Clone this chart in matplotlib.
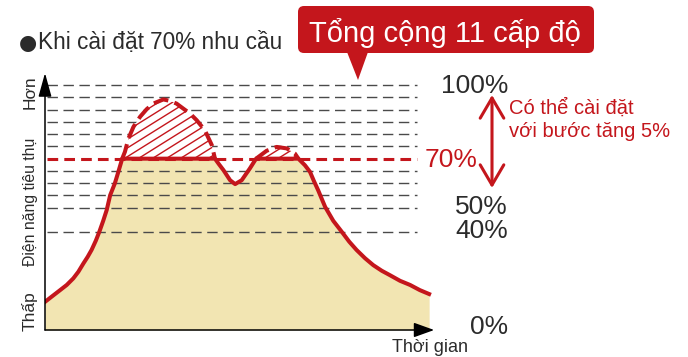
import numpy as np
import matplotlib
matplotlib.use("Agg")
import matplotlib.pyplot as plt
from matplotlib.path import Path
from matplotlib.patches import FancyBboxPatch, Polygon, FancyArrowPatch
from matplotlib.transforms import Affine2D, blended_transform_factory

plt.rcParams['font.family'] = ['Liberation Sans', 'DejaVu Sans']

# ---------------- data ----------------
time = [0, 1.7, 3.9, 5.6, 7.3, 8.6, 9.9, 11.0, 12.0, 13.1, 14.0, 15.0, 15.9,
        16.8, 18.0, 18.9, 19.9, 20.6, 21.5, 22.8, 24.5, 26.2, 27.9, 30.5, 32.2,
        33.9, 35.6, 37.4, 39.1, 41.2, 43.0, 43.8, 44.8, 46.0, 47.7, 49.0, 50.7,
        52.8, 54.4, 57.1, 59.7, 62.3, 64.4, 65.3, 67.0, 68.3, 69.3, 70.4, 71.3,
        72.2, 74.3, 76.5, 78.4, 80.3, 82.5, 84.6, 86.8, 88.9, 91.5, 94.1, 96.6,
        99.0]
demand = [11.5, 13.6, 16.3, 18.4, 21.1, 23.8, 27.2, 29.9, 32.7, 36.5, 40.1, 44.6,
          49.0, 55.1, 59.9, 64.6, 70.0, 72.8, 78.2, 83.0, 87.1, 90.2, 92.5, 94.2,
          93.6, 92.5, 90.5, 88.4, 85.7, 81.6, 75.5, 70.0, 67.8, 65.3, 61.2, 59.6,
          61.2, 66.0, 70.0, 73.2, 74.8, 74.2, 72.1, 70.0, 67.3, 64.6, 60.9, 57.1,
          53.7, 50.3, 44.6, 40.1, 36.1, 32.7, 29.3, 26.5, 24.2, 22.4, 20.1, 18.4,
          16.3, 14.7]
setting = 70
grid_levels = [40, 50, 55, 60, 65, 75, 80, 85, 90, 95, 100]
pct_levels = [100, 70, 50, 40, 0]
pct_labels = ['100%', '70%', '50%', '40%', '0%']

bullet = '●'
title = 'Khi cài đặt 70% nhu cầu'
badge = 'Tổng cộng 11 cấp độ'
note = 'Có thể cài đặt\nvới bước tăng 5%'
y_top, y_mid, y_bot = 'Hơn', 'Điện năng tiêu thụ', 'Thấp'
x_label = 'Thời gian'

# ---------------- style ----------------
RED = '#c4161c'
FILL = '#f2e5b2'
DARK = '#2b2b2b'
W, H = 688, 357

fig = plt.figure(figsize=(W / 100, H / 100), dpi=100)
PX = Affine2D().scale(1, -1).translate(0, H).scale(1 / 100) + fig.dpi_scale_trans

ax = fig.add_axes([45 / W, (H - 330) / H, 388 / W, 257 / H])
ax.set_xlim(0, 100)
ax.set_ylim(0, 105)
ax.axis('off')

t = np.array(time)
d = np.array(demand)
capped = np.minimum(d, setting)

# yellow area
ax.fill_between(t, 0, capped, color=FILL, lw=0, zorder=1)

# grid dashed lines
for lv in grid_levels:
    ax.plot([0.5, 96], [lv, lv], color='#4a4a4a', lw=1.0,
            ls=(0, (7.5, 4)), zorder=2)

# hatched excess area
over = ax.fill_between(t, setting, d, where=d >= setting, facecolor='white',
                       edgecolor='none', lw=0, zorder=3)
clip = Path.make_compound_path(*over.get_paths())
slope = 0.99
for c in np.arange(-12, 70, 3.6):
    ln, = ax.plot([c, c + 40], [setting, setting + 40 * slope], color=RED,
                  lw=1.0, zorder=3.5)
    ln.set_clip_path(clip, ax.transData)

# 70 % dashed line
ax.plot([0.5, 96], [setting, setting], color=RED, lw=2.2,
        ls=(0, (3.5, 2)), zorder=4)

# curves
ax.plot(t, capped, color=RED, lw=2.9, zorder=5, solid_joinstyle='round')
ax.plot(t, np.ma.masked_where(d < setting, d), color=RED, lw=2.9,
        ls=(0, (3.8, 1.6)), zorder=5)

# axes arrows
ax.annotate('', xy=(0, 1), xytext=(0, 0), xycoords='axes fraction',
            arrowprops=dict(arrowstyle='-|>,head_length=1.45,head_width=0.4',
                            color='black', lw=1.1, shrinkA=0, shrinkB=0,
                            mutation_scale=10), zorder=6)
ax.annotate('', xy=(1.003, 0), xytext=(0, 0), xycoords='axes fraction',
            arrowprops=dict(arrowstyle='-|>,head_length=1.25,head_width=0.45',
                            color='black', lw=1.1, shrinkA=0, shrinkB=0,
                            mutation_scale=10), zorder=6)

# percentage labels
bt = blended_transform_factory(ax.transAxes, ax.transData)
label_dy = [8, 8, 6, 5.5, 4.5]
label_x = [508, 478, 508, 508, 508]
for lv, lab, dy, lx in zip(pct_levels, pct_labels, label_dy, label_x):
    col = RED if lv == setting else DARK
    ax.text((lx - 45) / 388, lv, lab, transform=bt + Affine2D().translate(0, -dy),
            ha='right', va='baseline', fontsize=19, color=col, clip_on=False)

# title
fig.text(19, 49, bullet, transform=PX, fontsize=15, color=DARK,
         family=['DejaVu Sans'], ha='left', va='baseline')
fig.text(38, 49, title, transform=PX, fontsize=16.3, color=DARK,
         ha='left', va='baseline')

# badge
box = FancyBboxPatch((298, 6), 296, 47, boxstyle='round,pad=0,rounding_size=6',
                     transform=PX, facecolor=RED, edgecolor='none')
fig.patches.append(box)
tri = Polygon([(347, 52), (368, 52), (358, 80)], closed=True, transform=PX,
              facecolor=RED, edgecolor='none')
fig.patches.append(tri)
fig.text(445, 42, badge, transform=PX, fontsize=21, color='white',
         ha='center', va='baseline')

# double arrow and note
fig.add_artist(FancyArrowPatch(
    (492, 188), (492, 95), transform=PX,
    arrowstyle='<->,head_length=1.45,head_width=0.85', mutation_scale=10,
    color=RED, lw=2.2, shrinkA=0, shrinkB=0))
fig.text(509, 137, note, transform=PX, fontsize=14.5, color=RED,
         ha='left', va='baseline', linespacing=1.25)

# axis labels
fig.text(35, 92, y_top, transform=PX, fontsize=12.5, color=DARK, rotation=90,
         ha='center', va='baseline', rotation_mode='anchor')
fig.text(35, 202, y_mid, transform=PX, fontsize=11.3, color=DARK, rotation=90,
         ha='center', va='baseline', rotation_mode='anchor')
fig.text(35, 311, y_bot, transform=PX, fontsize=12.5, color=DARK, rotation=90,
         ha='center', va='baseline', rotation_mode='anchor')
fig.text(430, 352, x_label, transform=PX, fontsize=13, color=DARK,
         ha='center', va='baseline')

fig.savefig('out.png', dpi=100)
